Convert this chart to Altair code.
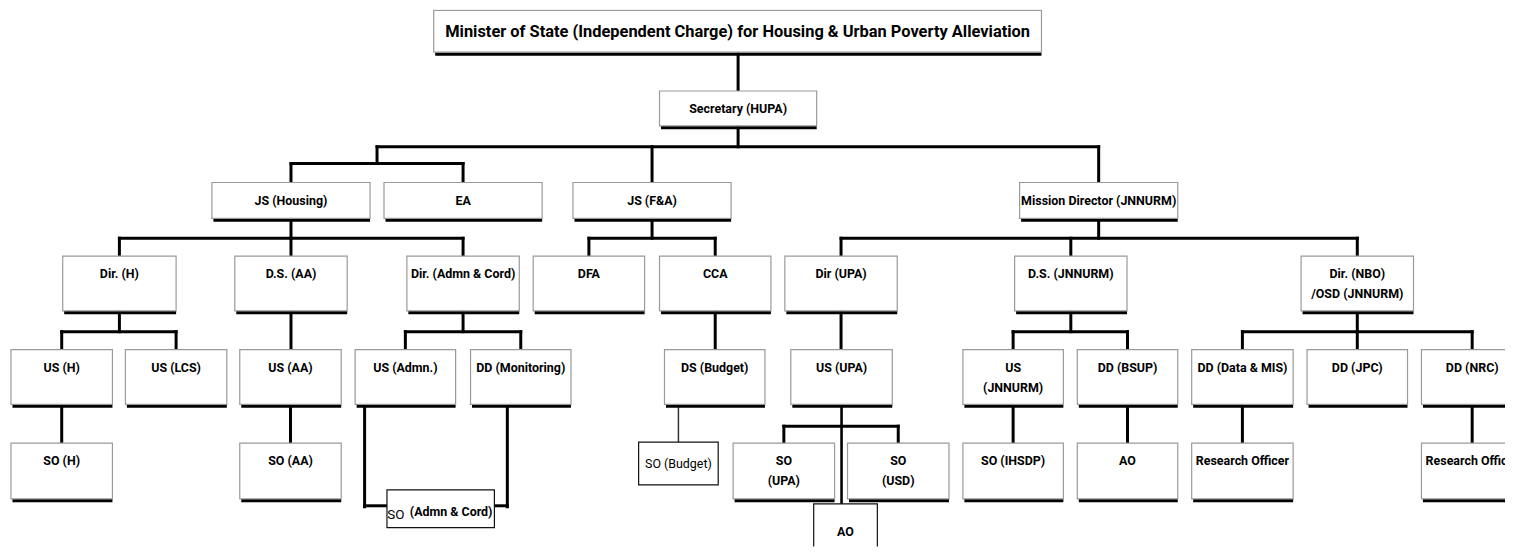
import altair as alt
import pandas as pd

FONT = "Roboto"

# ---- organisation units (label lines) and their box extents (pixel space of the chart) ----
node_keys = ["min", "sec",
             "jsh", "ea", "jsfa", "md",
             "dirh", "dsaa", "diradm", "dfa", "cca", "dirupa", "dsj", "dirnbo",
             "ush", "uslcs", "usaa", "usadm", "ddmon", "dsbud", "usupa", "usj", "ddbsup", "dddata", "ddjpc", "ddnrc",
             "soh", "soaa", "soupa", "sousd", "soihsdp", "ao1", "ro1", "ro2",
             "soadm", "sobud", "ao2"]
node_lines = [["Minister of State (Independent Charge) for Housing & Urban Poverty Alleviation"], ["Secretary (HUPA)"],
              ["JS (Housing)"], ["EA"], ["JS (F&A)"], ["Mission Director (JNNURM)"],
              ["Dir. (H)"], ["D.S. (AA)"], ["Dir. (Admn & Cord)"], ["DFA"], ["CCA"], ["Dir (UPA)"], ["D.S. (JNNURM)"], ["Dir. (NBO)", "/OSD (JNNURM)"],
              ["US (H)"], ["US (LCS)"], ["US (AA)"], ["US (Admn.)"], ["DD (Monitoring)"], ["DS (Budget)"], ["US (UPA)"], ["US", "(JNNURM)"], ["DD (BSUP)"], ["DD (Data & MIS)"], ["DD (JPC)"], ["DD (NRC)"],
              ["SO (H)"], ["SO (AA)"], ["SO", "(UPA)"], ["SO", "(USD)"], ["SO (IHSDP)"], ["AO"], ["Research Officer"], ["Research Officer"],
              [], ["SO (Budget)"], ["AO"]]
node_x0 = [436, 663,
           213, 386, 576, 1025,
           63, 236, 409, 536, 663, 789, 1020, 1308,
           11, 126, 241, 357, 473, 668, 795, 968, 1083, 1198, 1314, 1429,
           11, 241, 737, 852, 968, 1083, 1198, 1429,
           389, 642, 818]
node_x1 = [1047, 821,
           372, 545, 735, 1184,
           177, 349, 522, 648, 775, 902, 1133, 1421,
           113, 228, 343, 458, 574, 769, 897, 1069, 1184, 1300, 1415, 1531,
           113, 343, 839, 954, 1069, 1184, 1300, 1531,
           497, 722, 882]
level_top = {0: 9, 1: 90, 2: 182, 3: 256, 4: 350, 5: 444}
level_bottom = {0: 51, 1: 125, 2: 218, 3: 311, 4: 405, 5: 500}
node_level = [0, 1, 2, 2, 2, 2] + [3] * 8 + [4] * 12 + [5] * 8 + [None, None, None]
extra_y0 = {"soadm": 491, "sobud": 443, "ao2": 505}
extra_y1 = {"soadm": 529, "sobud": 486, "ao2": 570}
plain_nodes = ["soadm", "sobud", "ao2"]

nodes = {}
for k, lines, a, b, lv in zip(node_keys, node_lines, node_x0, node_x1, node_level):
    y0 = level_top[lv] if lv is not None else extra_y0[k]
    y1 = level_bottom[lv] if lv is not None else extra_y1[k]
    nodes[k] = dict(key=k, lines=lines, x0=a, x1=b, y0=y0, y1=y1, cx=(a + b) / 2, lv=lv)

# ---- boxes ----
box_rows, shadow_rows = [], []
for k, n in nodes.items():
    plain = k in plain_nodes
    box_rows.append(dict(x=n["x0"], x2=n["x1"], y=n["y0"], y2=n["y1"],
                         stroke="#111111" if plain else "#9a9a9a"))
    if not plain:
        shadow_rows.append(dict(x=n["x0"] + 1.5, x2=n["x1"], y=n["y1"], y2=n["y1"] + 3.5))
boxes = pd.DataFrame(box_rows)
shadows = pd.DataFrame(shadow_rows)

# ---- texts ----
text_rows = []
for k, n in nodes.items():
    L = n["lines"]
    if not L:
        continue
    if k == "ao2":
        ys = [n["y0"] + 28]
    elif n["lv"] is None or n["lv"] <= 2:
        mid = (n["y0"] + n["y1"]) / 2
        ys = [mid - (len(L) - 1) * 10 + i * 20 for i in range(len(L))]
    else:
        ys = [n["y0"] + 18 + i * 20 for i in range(len(L))]
    size = 16.5 if k == "min" else 12.5
    weight = "normal" if k == "sobud" else "bold"
    for s, yy in zip(L, ys):
        text_rows.append(dict(x=n["cx"], y=yy + 0.5, t=s, size=size, weight=weight))
# split-weight label of SO (Admn & Cord)
text_rows.append(dict(x=398, y=516, t="SO", size=13.5, weight="normal"))
text_rows.append(dict(x=453.5, y=513, t="(Admn & Cord)", size=12.5, weight="bold"))
texts = pd.DataFrame(text_rows)

# ---- connectors ----
seg_rows = []


def seg(xa, ya, xb, yb, w=3.0, c="#000000"):
    seg_rows.append(dict(x=xa, y=ya, x2=xb, y2=yb, w=w, c=c))


def fan(parent, children, bus_y):
    p = nodes[parent]
    cs = [nodes[c]["cx"] for c in children]
    seg(p["cx"], p["y1"], p["cx"], bus_y)
    seg(min(cs + [p["cx"]]), bus_y, max(cs + [p["cx"]]), bus_y)
    for c in children:
        seg(nodes[c]["cx"], bus_y, nodes[c]["cx"], nodes[c]["y0"])


def drop(parent, child):
    seg(nodes[parent]["cx"], nodes[parent]["y1"], nodes[parent]["cx"], nodes[child]["y0"])


sec_x = nodes["sec"]["cx"]
seg(sec_x, nodes["min"]["y1"], sec_x, nodes["sec"]["y0"])
grp_x = (nodes["jsh"]["cx"] + nodes["ea"]["cx"]) / 2
seg(sec_x, nodes["sec"]["y1"], sec_x, 146)
seg(grp_x, 146, nodes["md"]["cx"], 146)
seg(grp_x, 146, grp_x, 163)
seg(nodes["jsfa"]["cx"], 146, nodes["jsfa"]["cx"], 182)
seg(nodes["md"]["cx"], 146, nodes["md"]["cx"], 182)
seg(nodes["jsh"]["cx"], 163, nodes["ea"]["cx"], 163)
seg(nodes["jsh"]["cx"], 163, nodes["jsh"]["cx"], 182)
seg(nodes["ea"]["cx"], 163, nodes["ea"]["cx"], 182)

fan("jsh", ["dirh", "dsaa", "diradm"], 238)
fan("jsfa", ["dfa", "cca"], 238)
fan("md", ["dirupa", "dsj", "dirnbo"], 238)
fan("dirh", ["ush", "uslcs"], 332)
drop("dsaa", "usaa")
fan("diradm", ["usadm", "ddmon"], 332)
drop("cca", "dsbud")
drop("dirupa", "usupa")
fan("dsj", ["usj", "ddbsup"], 332)
fan("dirnbo", ["dddata", "ddjpc", "ddnrc"], 332)
drop("ush", "soh")
drop("usaa", "soaa")
drop("usj", "soihsdp")
drop("ddbsup", "ao1")
drop("dddata", "ro1")
drop("ddnrc", "ro2")
# US (UPA) fan + long line to AO
u = nodes["usupa"]
seg(u["cx"], u["y1"], u["cx"], nodes["ao2"]["y0"] + 3, w=2.6)
seg(nodes["soupa"]["cx"], 427, nodes["sousd"]["cx"], 427)
seg(nodes["soupa"]["cx"], 427, nodes["soupa"]["cx"], nodes["soupa"]["y0"])
seg(nodes["sousd"]["cx"], 427, nodes["sousd"]["cx"], nodes["sousd"]["y0"])
# DS (Budget) -> SO (Budget), thin
seg(682, nodes["dsbud"]["y1"], 682, nodes["sobud"]["y0"], w=1.5, c="#333333")
# US (Admn.) and DD (Monitoring) -> SO (Admn & Cord)
seg(366.5, nodes["usadm"]["y1"], 366.5, 508)
seg(366.5, 507, nodes["soadm"]["x0"], 507)
seg(510, nodes["ddmon"]["y1"], 510, 508)
seg(nodes["soadm"]["x1"], 507, 510, 507)
segs = pd.DataFrame(seg_rows)

# ---- scales (1 data unit = 1 screen pixel) ----
W, H = 1505, 540
xs = alt.Scale(domain=[8, 8 + W], nice=False, zero=False)
ys = alt.Scale(domain=[8, 8 + H], nice=False, zero=False, reverse=True)

lines_layer = alt.Chart(segs).mark_rule(strokeCap="square", clip=True).encode(
    x=alt.X("x:Q", scale=xs, axis=None), y=alt.Y("y:Q", scale=ys, axis=None),
    x2="x2:Q", y2="y2:Q",
    strokeWidth=alt.StrokeWidth("w:Q", scale=None),
    color=alt.Color("c:N", scale=None))

shadow_layer = alt.Chart(shadows).mark_rect(color="#000000", clip=True).encode(
    x=alt.X("x:Q", scale=xs, axis=None), y=alt.Y("y:Q", scale=ys, axis=None),
    x2="x2:Q", y2="y2:Q")

box_layer = alt.Chart(boxes).mark_rect(fill="#ffffff", strokeWidth=1.2, clip=True).encode(
    x=alt.X("x:Q", scale=xs, axis=None), y=alt.Y("y:Q", scale=ys, axis=None),
    x2="x2:Q", y2="y2:Q",
    stroke=alt.Stroke("stroke:N", scale=None))


def text_layer(weight):
    return alt.Chart(texts).transform_filter(alt.datum.weight == weight).mark_text(
        font=FONT, color="#000000", baseline="middle", align="center",
        fontWeight=weight, clip=True).encode(
        x=alt.X("x:Q", scale=xs, axis=None), y=alt.Y("y:Q", scale=ys, axis=None),
        text="t:N",
        size=alt.Size("size:Q", scale=None))


chart = alt.layer(lines_layer, shadow_layer, box_layer,
                  text_layer("bold"), text_layer("normal")).properties(
    width=W, height=H, padding=0,
    autosize=alt.AutoSizeParams(type="none"),
    background="#ffffff"
).configure_view(stroke=None)

chart.save("out.html", embed_options={"renderer": "svg", "actions": False})
